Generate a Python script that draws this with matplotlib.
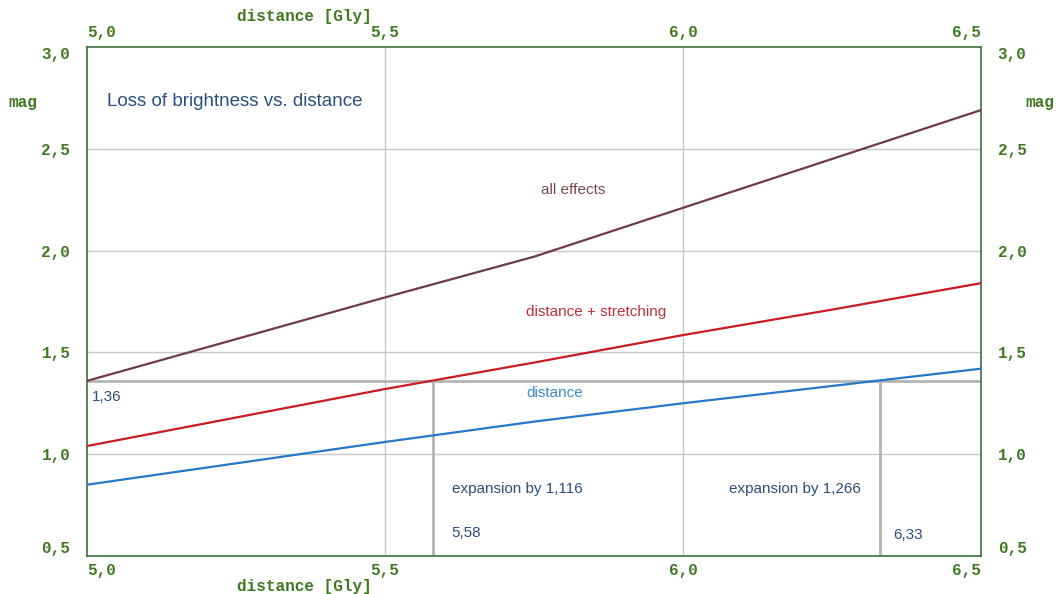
import matplotlib.pyplot as plt

# distance in Gly, magnitude loss
dist = [5.0, 5.25, 5.5, 5.75, 6.0, 6.25, 6.5]
mag_all = [1.36, 1.565, 1.77, 1.97, 2.21, 2.45, 2.69]
mag_stretch = [1.04, 1.18, 1.32, 1.45, 1.585, 1.71, 1.84]
mag_dist = [0.85, 0.955, 1.06, 1.16, 1.25, 1.335, 1.42]

level = 1.36
cross_x = [5.58, 6.33]
expansion = ["1,116", "1,266"]

xticks = [5.0, 5.5, 6.0, 6.5]
xlabels = ["5,0", "5,5", "6,0", "6,5"]
yticks = [0.5, 1.0, 1.5, 2.0, 2.5, 3.0]
ylabels = ["0,5", "1,0", "1,5", "2,0", "2,5", "3,0"]

GREEN = "#3f7a23"
FRAME = "#3c6e3c"
NAVY = "#2b4f7e"
mono = dict(family="Liberation Mono", weight="bold", size=11.5, color=GREEN)

fig = plt.figure(figsize=(10.57, 5.94), dpi=100)
ax = fig.add_axes([0.0823, 0.0640, 0.8458, 0.8569])
ax.set_xlim(5.0, 6.5)
ax.set_ylim(0.5, 3.0)

for x in xticks[1:-1]:
    ax.axvline(x, color="#c8c8c8", lw=1, zorder=1)
for y in yticks[1:-1]:
    ax.axhline(y, color="#c8c8c8", lw=1, zorder=1)

ax.axhline(level, color="#b4b4b4", lw=2, zorder=2)
for x in cross_x:
    ax.plot([x, x], [0.5, level], color="#b4b4b4", lw=2, zorder=2)

ax.plot(dist, mag_all, color="#6e3b46", lw=1.6, zorder=3)
ax.plot(dist, mag_stretch, color="#cc1a22", lw=1.6, zorder=3)
ax.plot(dist, mag_dist, color="#2878c8", lw=1.6, zorder=3)

for s in ax.spines.values():
    s.set_color(FRAME)
    s.set_linewidth(1.2)

ax.set_xticks(xticks, xlabels)
ax.set_yticks(yticks, ylabels)
ax.tick_params(length=0, top=True, right=True, labeltop=True, labelright=True)
ax.tick_params(axis="x", pad=5)
ax.tick_params(axis="y", pad=12)
for t in ax.xaxis.get_major_ticks() + ax.yaxis.get_major_ticks():
    for lab in (t.label1, t.label2):
        lab.set_family("Liberation Mono")
        lab.set_weight("bold")
        lab.set_size(11.5)
        lab.set_color(GREEN)
xt = ax.xaxis.get_major_ticks()
for lab in (xt[0].label1, xt[0].label2):
    lab.set_ha("left")
for lab in (xt[-1].label1, xt[-1].label2):
    lab.set_ha("right")
yt = ax.yaxis.get_major_ticks()
for lab in (yt[0].label1, yt[0].label2):
    lab.set_va("bottom")
for lab in (yt[-1].label1, yt[-1].label2):
    lab.set_va("top")

fig.text(304 / 1057, 1 - 17 / 594, "distance [Gly]", ha="center", va="center", **mono)
fig.text(304 / 1057, 1 - 586 / 594, "distance [Gly]", ha="center", va="center", **mono)
fig.text(23 / 1057, 1 - 102 / 594, "mag", ha="center", va="center", **mono)
fig.text(1040 / 1057, 1 - 102 / 594, "mag", ha="center", va="center", **mono)

sans = "Liberation Sans"
ax.text(5.034, 2.73, "Loss of brightness vs. distance", color=NAVY, fontsize=13.5,
        family=sans, va="center")
ax.text(5.815, 2.30, "all effects", color="#7a4a50", fontsize=11, family=sans,
        ha="center", va="center")
ax.text(5.855, 1.70, "distance + stretching", color="#c0303a", fontsize=11,
        family=sans, ha="center", va="center")
ax.text(5.785, 1.30, "distance", color="#3a8ad0", fontsize=11, family=sans,
        ha="center", va="center")
ax.text(5.008, 1.28, "1,36", color=NAVY, fontsize=11, family=sans, va="center")
ax.text(5.612, 0.83, "expansion by " + expansion[0], color=NAVY, fontsize=11,
        family=sans, va="center")
ax.text(6.077, 0.83, "expansion by " + expansion[1], color=NAVY, fontsize=11,
        family=sans, va="center")
ax.text(5.612, 0.613, "5,58", color=NAVY, fontsize=11, family=sans, va="center")
ax.text(6.353, 0.605, "6,33", color=NAVY, fontsize=11, family=sans, va="center")

fig.savefig("out.png", dpi=100, facecolor="white")
